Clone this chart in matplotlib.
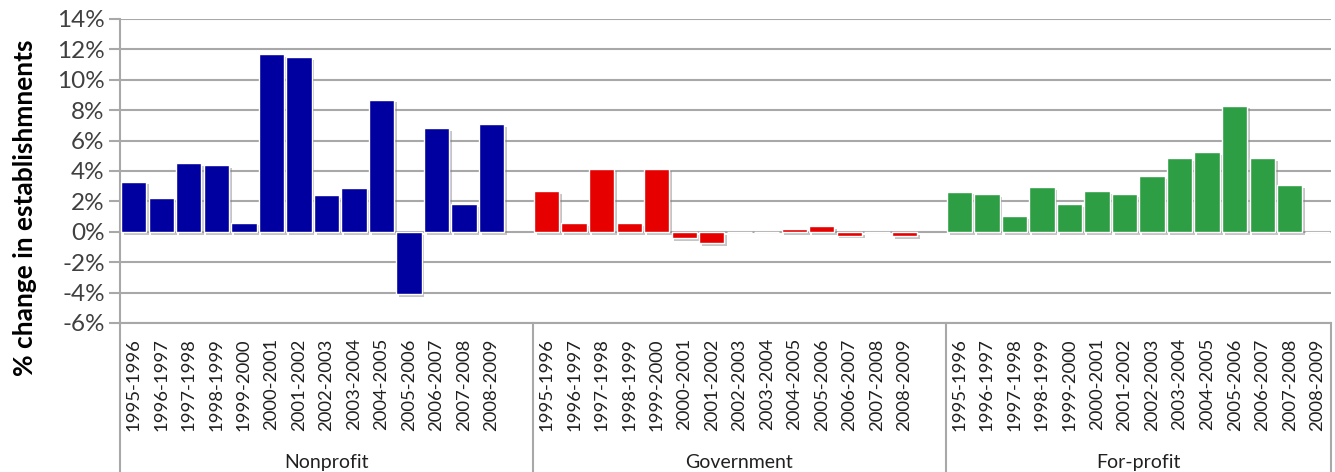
import numpy as np
import matplotlib
matplotlib.use("Agg")
import matplotlib.pyplot as plt
import matplotlib.patheffects as pe
import matplotlib.transforms as mtransforms

plt.rcParams['font.family'] = ['Lato', 'DejaVu Sans']

periods = ["1995-1996", "1996-1997", "1997-1998", "1998-1999", "1999-2000",
           "2000-2001", "2001-2002", "2002-2003", "2003-2004", "2004-2005",
           "2005-2006", "2006-2007", "2007-2008", "2008-2009"]
groups = ["Nonprofit", "Government", "For-profit"]
colors = ["#0000A0", "#E60000", "#2E9E44"]

nonprofit = [3.3, 2.2, 4.5, 4.4, 0.6, 11.7, 11.5, 2.4, 2.9, 8.7, -4.1, 6.8, 1.8, 7.1]
government = [2.7, 0.55, 4.15, 0.55, 4.15, -0.4, -0.75, 0.0, 0.0, 0.2, 0.38, -0.25, 0.0, -0.3]
forprofit = [2.65, 2.5, 1.05, 2.95, 1.8, 2.7, 2.5, 3.65, 4.85, 5.25, 8.3, 4.85, 3.05, 0.0]
series = [nonprofit, government, forprofit]

slots_per_group = 15  # 14 periods + one blank slot
n_slots = slots_per_group * 2 + len(periods)

fig = plt.figure(figsize=(13.35, 4.72), dpi=100)
ax = fig.add_axes([120/1335, 1-323/472, (1331-120)/1335, (323-19)/472])

shadow = [pe.SimplePatchShadow(offset=(2, -2), shadow_rgbFace="#808080", alpha=0.45), pe.Normal()]
for g, (vals, col) in enumerate(zip(series, colors)):
    x = g*slots_per_group + np.arange(len(vals))
    bars = ax.bar(x, vals, width=0.92, color=col, edgecolor="white", linewidth=1.0, zorder=3)
    for b in bars:
        b.set_path_effects(shadow)

ax.set_xlim(-0.5, n_slots - 0.5)
ax.set_ylim(-6, 14)
ax.set_yticks(np.arange(-6, 15, 2))
ax.set_yticklabels(["%d%%" % v for v in np.arange(-6, 15, 2)], fontsize=17.5, color="#404040")
ax.yaxis.grid(True, color="#A8A8A8", linewidth=1.5, zorder=0)
ax.tick_params(axis="y", length=8, width=1.5, color="#A8A8A8", pad=3)
ax.set_xticks([])
for s in ["top", "right", "bottom"]:
    ax.spines[s].set_visible(False)
ax.spines["left"].set_color("#A8A8A8")
ax.spines["left"].set_linewidth(1.5)

# category axis below the plot
trans = mtransforms.blended_transform_factory(ax.transData, ax.transAxes)
for g in range(len(groups)):
    for i, p in enumerate(periods):
        ax.text(g*slots_per_group + i, -0.05, p, transform=trans, rotation=90,
                ha="center", va="top", fontsize=13.3, color="#202020")
    start = g*slots_per_group - 0.5
    end = min(start + slots_per_group, n_slots - 0.5)
    ax.text((start + end)/2, -0.46, groups[g], transform=trans,
            ha="center", va="center", fontsize=14, color="#202020")
bounds = [g*slots_per_group - 0.5 for g in range(len(groups))] + [n_slots - 0.5]
for bx in bounds:
    ax.plot([bx, bx], [0, -0.52], transform=trans, color="#A8A8A8", lw=1.5, clip_on=False)
ax.plot([-0.5, n_slots - 0.5], [0, 0], transform=trans, color="#A8A8A8", lw=1.5, clip_on=False)

fig.text(0.019, 1-208/472, "% change in establishmnents", rotation=90, ha="center", va="center",
         fontsize=19, fontweight="bold", color="#000000")

fig.savefig("out.png", dpi=100)
